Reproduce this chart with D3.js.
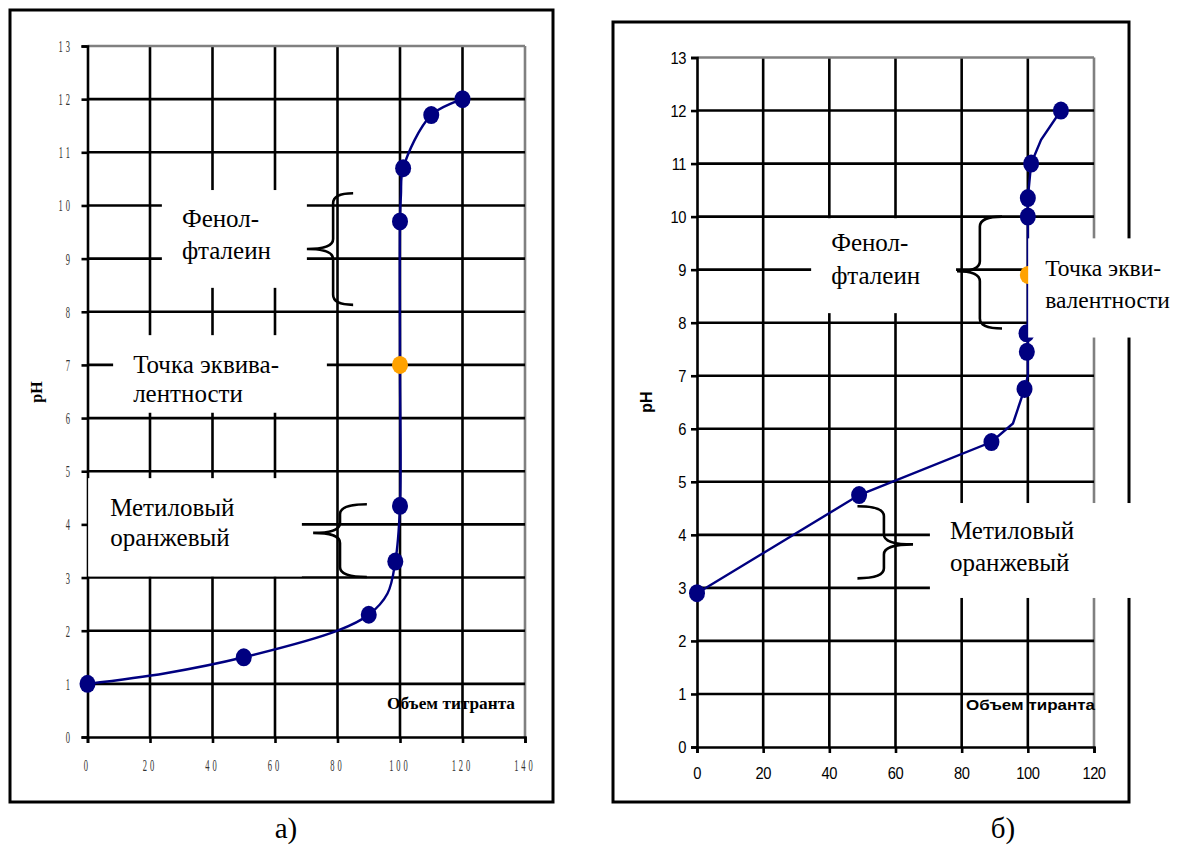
<!DOCTYPE html>
<html><head><meta charset="utf-8">
<script src="https://cdn.jsdelivr.net/npm/d3@7"></script>
<style>body{margin:0;background:#fff}svg{display:block}</style>
</head><body>
<svg id="c" width="1178" height="848"></svg>
<script>
// ---------- data: chart a ----------
const xTicksA = [0,20,40,60,80,100,120,140];
const yTicksA = [0,1,2,3,4,5,6,7,8,9,10,11,12,13];
const markerVolA = [0,50,90,98.5,100,100,101,110,120];
const markerPhA  = [1,1.5,2.3,3.3,4.35,9.7,10.7,11.7,12];
const lineVolA = [0,25,50,80,90,96,98.5,100,100,100,100.3,101,110,120];
const linePhA  = [1,1.2,1.5,2.0,2.3,2.7,3.3,4.35,7,9.7,10.2,10.7,11.7,12];
const equivVolA = [100];
const equivPhA  = [7];
// ---------- data: chart b ----------
const xTicksB = [0,20,40,60,80,100,120];
const yTicksB = [0,1,2,3,4,5,6,7,8,9,10,11,12,13];
const markerVolB = [0,49,89,99,99.7,99.6,100,100,101,110];
const markerPhB  = [2.9,4.75,5.75,6.75,7.45,7.8,10.0,10.35,11.0,12.0];
const lineVolB = [0,49,89,95.5,99,100,100,100,100,100,101,104,110];
const linePhB  = [2.9,4.75,5.75,6.1,6.75,7.0,7.45,7.8,10.0,10.35,11.0,11.45,12.0];
const equivVolB = [100];
const equivPhB  = [8.9];

const svg = d3.select('#c');
const NAVY = '#000080', ORANGE = '#ffa200';
const SERIF = '"Liberation Serif","Times New Roman",serif';
const SANS = '"Liberation Sans",Arial,sans-serif';

function chart(o){
  const g = svg.append('g');
  const x = d3.scaleLinear().domain(o.xDom).range(o.xRange);
  const y = d3.scaleLinear().domain([0,13]).range(o.yRange);
  g.append('rect').attr('x',o.frame[0]).attr('y',o.frame[1])
    .attr('width',o.frame[2]-o.frame[0]).attr('height',o.frame[3]-o.frame[1])
    .attr('fill','#fff').attr('stroke','#000').attr('stroke-width',3);
  const xMax = o.xDom[1];
  g.selectAll('.vg').data(o.xTicks.filter(d=>d>0)).join('line')
    .attr('x1',d=>x(d)).attr('x2',d=>x(d)).attr('y1',y(0)).attr('y2',y(13))
    .attr('stroke',d=>d===xMax?'#808080':'#000').attr('stroke-width',2.6);
  g.selectAll('.hg').data(o.yTicks.filter(d=>d>0)).join('line')
    .attr('x1',x(0)).attr('x2',x(xMax)).attr('y1',d=>y(d)).attr('y2',d=>y(d))
    .attr('stroke',d=>d===13?'#808080':'#000').attr('stroke-width',2.6);
  const ax = g.append('g').attr('transform',`translate(0,${y(0)})`)
    .call(d3.axisBottom(x).tickValues(o.xTicks).tickSize(6).tickFormat(''));
  const ay = g.append('g').attr('transform',`translate(${x(0)},0)`)
    .call(d3.axisLeft(y).tickValues(o.yTicks).tickSize(6).tickFormat(''));
  [ax,ay].forEach(a=>{a.selectAll('path,line').attr('stroke','#000').attr('stroke-width',2.6);});
  g.selectAll('.xl').data(o.xTicks).join('text')
    .attr('transform',d=>`translate(${x(d)},${o.xLabelY}) scale(${o.tickScale},1)`)
    .attr('text-anchor','middle').attr('font-family',o.tickFont).attr('font-size',o.tickSize)
    .attr('letter-spacing',o.tickSpacing).attr('fill',o.tickColor).text(d=>d);
  g.selectAll('.yl').data(o.yTicks).join('text')
    .attr('transform',d=>`translate(${o.yLabelX},${y(d)+o.yLabelDy}) scale(${o.tickScale},1)`)
    .attr('text-anchor','end').attr('font-family',o.tickFont).attr('font-size',o.tickSize)
    .attr('letter-spacing',o.tickSpacing).attr('fill',o.tickColor).text(d=>d);
  g.append('text').attr('transform',`translate(${o.phPos[0]},${o.phPos[1]}) rotate(-90)`)
    .attr('text-anchor','middle').attr('font-family',o.titleFont).attr('font-weight','bold')
    .attr('font-size',o.phSize).text('pH');
  g.append('text').attr('x',o.volPos[0]).attr('y',o.volPos[1])
    .attr('font-family',o.titleFont).attr('font-weight','bold').attr('font-size',o.volSize)
    .attr('textLength',o.volLen).attr('lengthAdjust','spacingAndGlyphs')
    .text(o.volText);
  return {g,x,y};
}

function series(c, lv, lp, mv, mp, ev, ep, curve){
  const line = d3.line().x(d=>c.x(d[0])).y(d=>c.y(d[1])).curve(curve);
  c.g.append('path').datum(d3.zip(lv,lp)).attr('d',line)
    .attr('fill','none').attr('stroke',NAVY).attr('stroke-width',2.4);
  c.g.selectAll('.m').data(d3.zip(mv,mp)).join('ellipse')
    .attr('cx',d=>c.x(d[0])).attr('cy',d=>c.y(d[1])).attr('rx',8).attr('ry',9).attr('fill',NAVY);
  c.g.selectAll('.e').data(d3.zip(ev,ep)).join('ellipse')
    .attr('cx',d=>c.x(d[0])).attr('cy',d=>c.y(d[1])).attr('rx',8).attr('ry',9).attr('fill',ORANGE);
}

function box(c, v0, v1, p0, p1, lines, tx, ty, dy, size){
  const x0=c.x(v0), x1=c.x(v1), y0=c.y(p0), y1=c.y(p1);
  c.g.append('rect').attr('x',x0).attr('y',y0).attr('width',x1-x0).attr('height',y1-y0).attr('fill','#fff');
  lines.forEach((t,i)=>c.g.append('text').attr('x',x0+tx).attr('y',y0+ty+i*dy)
    .attr('font-family',SERIF).attr('font-size',size).text(t));
}

function brace(c, vEnd, vSpine, vTip, pTop, pMid, pBot){
  const e=c.x(vEnd), s=c.x(vSpine), t=c.x(vTip), a=c.y(pTop), m=c.y(pMid), b=c.y(pBot);
  const r = 10;
  const p = d3.path();
  p.moveTo(e,a);
  p.quadraticCurveTo(s,a, s,a+r);
  p.lineTo(s,m-r);
  p.quadraticCurveTo(s,m, t,m);
  p.quadraticCurveTo(s,m, s,m+r);
  p.lineTo(s,b-r);
  p.quadraticCurveTo(s,b, e,b);
  c.g.append('path').attr('d',p.toString()).attr('fill','none').attr('stroke','#000').attr('stroke-width',2.6);
}

// ---------- chart a ----------
const A = chart({
  frame:[10,10,553,802], xDom:[0,140], xRange:[87.5,525], yRange:[737,46],
  xTicks:xTicksA, yTicks:yTicksA, xLabelY:771, yLabelX:73, yLabelDy:6,
  tickFont:SERIF, tickSize:17, tickScale:0.5, tickSpacing:6, tickColor:'#333',
  titleFont:SERIF, phPos:[42,392], phSize:16,
  volPos:[387,709], volSize:16, volLen:128, volText:'Объем титранта'
});
box(A, 23.8, 70.2, 10.29, 8.45, ['Фенол-','фталеин'], 20, 37, 32, 25);
box(A, 8.2, 76.6, 7.56, 6.1, ['Точка эквива-','лентности'], 20, 38, 29, 25);
box(A, 0.2, 68.6, 4.87, 3.02, ['Метиловый','оранжевый'], 22, 38, 30, 25);
brace(A, 85, 78.6, 70.2, 10.23, 9.18, 8.13);
brace(A, 89.4, 80.8, 72.2, 4.38, 3.84, 3.01);
series(A, lineVolA, linePhA, markerVolA, markerPhA, equivVolA, equivPhA, d3.curveCatmullRom.alpha(0.5));

// ---------- chart b ----------
const B = chart({
  frame:[613,22,1129,802], xDom:[0,120], xRange:[697,1094], yRange:[747,57.5],
  xTicks:xTicksB, yTicks:yTicksB, xLabelY:779, yLabelX:686, yLabelDy:6,
  tickFont:SANS, tickSize:16, tickScale:0.92, tickSpacing:-0.5, tickColor:'#000',
  titleFont:SANS, phPos:[652,402], phSize:16,
  volPos:[966,710], volSize:15, volLen:129, volText:'Объем тиранта'
});
series(B, lineVolB, linePhB, markerVolB, markerPhB, equivVolB, equivPhB, d3.curveLinear);
box(B, 34.5, 78.3, 9.97, 8.18, ['Фенол-','фталеин'], 20, 33, 33, 25);
box(B, 100.1, 146, 9.59, 7.72, ['Точка экви-','валентности'], 17, 38, 32, 23.5);
box(B, 70.4, 146, 4.6, 2.81, ['Метиловый','оранжевый'], 20, 36, 32, 25);
brace(B, 92.2, 85.5, 78.6, 10.0, 8.97, 7.89);
brace(B, 48.5, 56.5, 65.3, 4.54, 3.82, 3.18);

svg.append('text').attr('x',286).attr('y',838).attr('text-anchor','middle')
  .attr('font-family',SERIF).attr('font-size',29).text('а)');
svg.append('text').attr('x',1003).attr('y',838).attr('text-anchor','middle')
  .attr('font-family',SERIF).attr('font-size',29).text('б)');
</script>
</body></html>
